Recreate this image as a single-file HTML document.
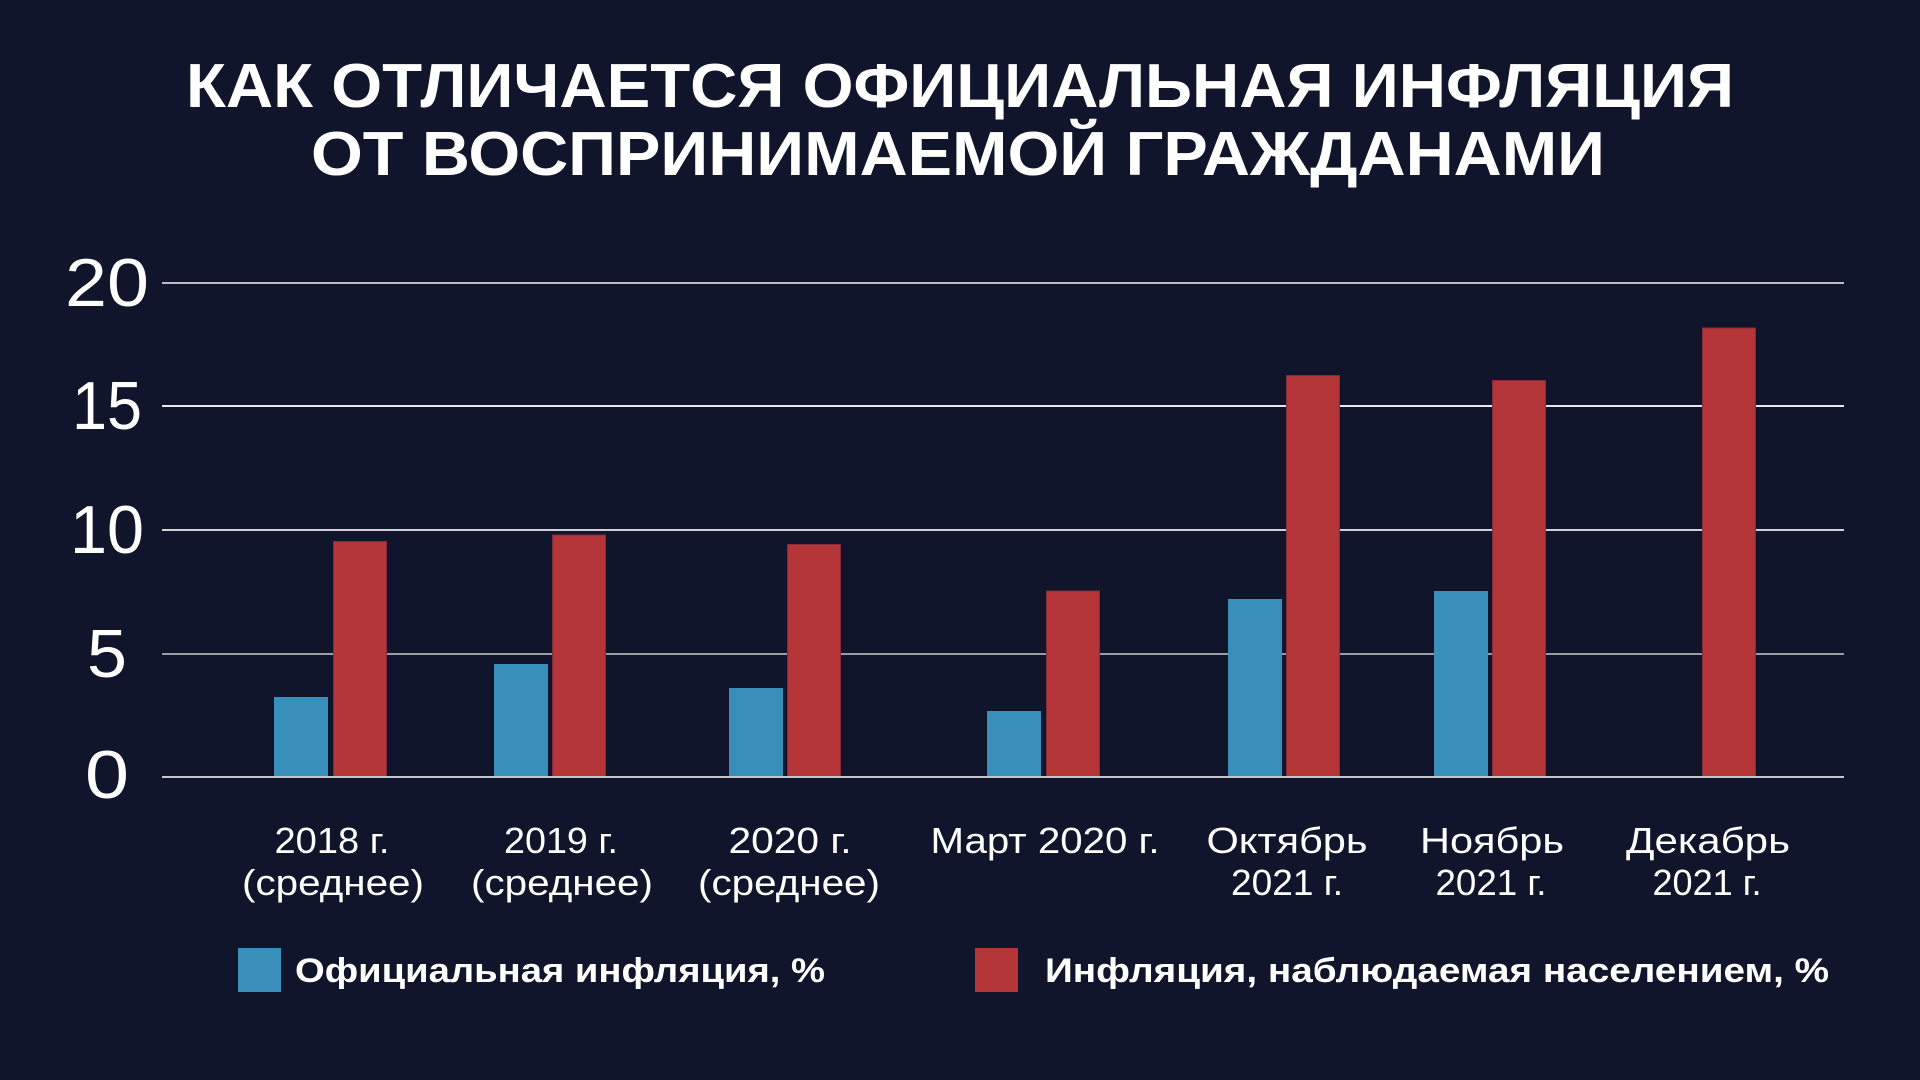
<!DOCTYPE html>
<html>
<head>
<meta charset="utf-8">
<style>
html,body{margin:0;padding:0;background:#11152b;}
svg{display:block;}
text{font-family:"Liberation Sans","DejaVu Sans",sans-serif;fill:#ffffff;}
</style>
</head>
<body>
<svg width="1920" height="1080" viewBox="0 0 1920 1080" xmlns="http://www.w3.org/2000/svg">
<rect x="0" y="0" width="1920" height="1080" fill="#11152b"/>

<!-- Title -->
<text x="186" y="107" font-size="62" font-weight="bold" textLength="1548" lengthAdjust="spacingAndGlyphs">КАК ОТЛИЧАЕТСЯ ОФИЦИАЛЬНАЯ ИНФЛЯЦИЯ</text>
<text x="311" y="175" font-size="62" font-weight="bold" textLength="1294" lengthAdjust="spacingAndGlyphs">ОТ ВОСПРИНИМАЕМОЙ ГРАЖДАНАМИ</text>

<!-- Gridlines -->
<g fill="#bcbdc4">
<rect x="162" y="282" width="1682" height="2"/>
<rect x="162" y="405" width="1682" height="2" fill="#e8e8ec"/>
<rect x="162" y="529" width="1682" height="2" fill="#d0d0d6"/>
<rect x="162" y="653" width="1682" height="2" fill="#9a9ca4"/>
</g>

<!-- Y labels -->
<g font-size="68" text-anchor="middle">
<text x="107" y="306" textLength="84" lengthAdjust="spacingAndGlyphs">20</text>
<text x="107" y="429" textLength="70" lengthAdjust="spacingAndGlyphs">15</text>
<text x="107" y="553" textLength="74" lengthAdjust="spacingAndGlyphs">10</text>
<text x="107" y="677" textLength="40" lengthAdjust="spacingAndGlyphs">5</text>
<text x="107" y="798" textLength="44" lengthAdjust="spacingAndGlyphs">0</text>
</g>

<!-- Bars: official (blue) -->
<g fill="#378fba">
<rect x="274" y="697" width="54" height="80"/>
<rect x="494" y="664" width="54" height="113"/>
<rect x="729" y="688" width="54" height="89"/>
<rect x="987" y="711" width="54" height="66"/>
<rect x="1228" y="599" width="54" height="178"/>
<rect x="1434" y="591" width="54" height="186"/>
</g>
<!-- Bars: perceived (red) -->
<g fill="#b53638" stroke="#86293a" stroke-width="1">
<rect x="333.5" y="541.5" width="53" height="235.5"/>
<rect x="552.5" y="535" width="53" height="242"/>
<rect x="787.5" y="544.5" width="53" height="232.5"/>
<rect x="1046.5" y="591" width="53" height="186"/>
<rect x="1286.5" y="375.5" width="53" height="401.5"/>
<rect x="1492.5" y="380.5" width="53" height="396.5"/>
<rect x="1702.5" y="328" width="53" height="449"/>
</g>

<!-- Zero line -->
<rect x="162" y="776" width="1682" height="2" fill="#c4c5cb"/>

<!-- Category labels -->
<g font-size="36" text-anchor="middle">
<text x="332" y="853" textLength="115" lengthAdjust="spacingAndGlyphs">2018 г.</text>
<text x="333" y="895" textLength="182" lengthAdjust="spacingAndGlyphs">(среднее)</text>
<text x="561" y="853" textLength="114" lengthAdjust="spacingAndGlyphs">2019 г.</text>
<text x="562" y="895" textLength="182" lengthAdjust="spacingAndGlyphs">(среднее)</text>
<text x="790" y="853" textLength="123" lengthAdjust="spacingAndGlyphs">2020 г.</text>
<text x="789" y="895" textLength="182" lengthAdjust="spacingAndGlyphs">(среднее)</text>
<text x="1045" y="853" textLength="229" lengthAdjust="spacingAndGlyphs">Март 2020 г.</text>
<text x="1287" y="853" textLength="161" lengthAdjust="spacingAndGlyphs">Октябрь</text>
<text x="1287" y="895" textLength="112" lengthAdjust="spacingAndGlyphs">2021 г.</text>
<text x="1492" y="853" textLength="144" lengthAdjust="spacingAndGlyphs">Ноябрь</text>
<text x="1491" y="895" textLength="111" lengthAdjust="spacingAndGlyphs">2021 г.</text>
<text x="1708" y="853" textLength="164" lengthAdjust="spacingAndGlyphs">Декабрь</text>
<text x="1707" y="895" textLength="109" lengthAdjust="spacingAndGlyphs">2021 г.</text>
</g>

<!-- Legend -->
<rect x="238" y="948" width="43" height="44" fill="#378fba"/>
<text x="295" y="982" font-size="34" font-weight="bold" textLength="530" lengthAdjust="spacingAndGlyphs">Официальная инфляция, %</text>
<rect x="975" y="948" width="43" height="44" fill="#b53638"/>
<text x="1045" y="982" font-size="34" font-weight="bold" textLength="784" lengthAdjust="spacingAndGlyphs">Инфляция, наблюдаемая населением, %</text>
</svg>
</body>
</html>
